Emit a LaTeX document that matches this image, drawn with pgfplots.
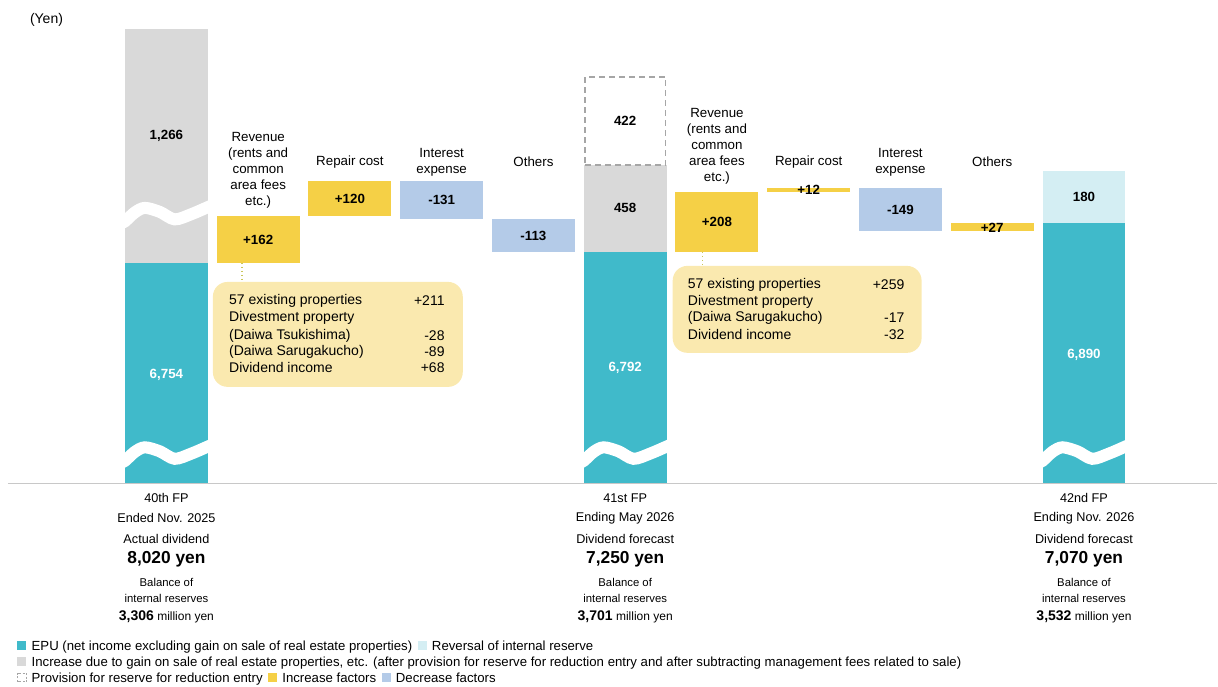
\documentclass[border=0pt]{standalone}
\usepackage{fontspec}
\setmainfont{Liberation Sans}
\usepackage{pgfplots}
\pgfplotsset{compat=1.18}
\usepackage{pgfplotstable}

\definecolor{cTeal}{HTML}{40BACA}
\definecolor{cLTeal}{HTML}{D4EEF3}
\definecolor{cGrey}{HTML}{D9D9D9}
\definecolor{cYellow}{HTML}{F5D046}
\definecolor{cBlue}{HTML}{B4CBE8}
\definecolor{cCallout}{HTML}{FAE9AF}
\definecolor{cBase}{HTML}{C8C8C8}
\definecolor{cDash}{HTML}{A6A6A6}
\definecolor{cDot}{HTML}{C9C55A}
\definecolor{cText}{HTML}{1F1F1F}

% wave break shape (t across bar width, level in yen-scale)
\pgfplotstableread{
t L
-0.06 6062.6
0 6071.2
0.12 6102.3
0.24 6117.8
0.42 6104
0.6 6078.1
0.8 6096
1.0 6120.5
1.06 6128.1
}\wavetable

\newcommand{\rect}[5]{\addplot[fill=#5, draw=none, forget plot] coordinates {(#1,#3) (#2,#3) (#2,#4) (#1,#4)} -- cycle;}
\newcommand{\sq}[1]{\textcolor{#1}{\rule{6.8pt}{6.8pt}}}
\newcommand{\fs}[1]{\fontsize{#1}{#1}\selectfont}

\begin{document}
\begin{tikzpicture}
\begin{axis}[
  x=68.85pt, y=0.2175pt,
  xmin=-1.8137, xmax=11.4542, ymin=5292, ymax=7661,
  axis line style={draw=none}, xtick=\empty, ytick=\empty,
  clip=false,
  every node/.style={text=cText},
]
% 40th FP
\rect{-0.452}{0.452}{5992}{6754}{cTeal}
\rect{-0.452}{0.452}{6754}{7560}{cGrey}
% factors 40th -> 41st
\rect{0.548}{1.452}{6754}{6916}{cYellow}
\rect{1.548}{2.452}{6916}{7036}{cYellow}
\rect{2.548}{3.452}{6905}{7036}{cBlue}
\rect{3.548}{4.452}{6792}{6905}{cBlue}
% 41st FP
\rect{4.548}{5.452}{5992}{6792}{cTeal}
\rect{4.548}{5.452}{6792}{7092}{cGrey}
\addplot[fill=white, draw=cDash, line width=1.1pt, dash pattern=on 4.5pt off 3pt, forget plot] coordinates {(4.56,7092) (5.44,7092) (5.44,7396) (4.56,7396)} -- cycle;
% factors 41st -> 42nd
\rect{5.548}{6.452}{6792}{7000}{cYellow}
\rect{6.548}{7.452}{7000}{7012}{cYellow}
\rect{7.548}{8.452}{6863}{7012}{cBlue}
\rect{8.548}{9.452}{6863}{6890}{cYellow}
% 42nd FP
\rect{9.548}{10.452}{5992}{6890}{cTeal}
\rect{9.548}{10.452}{6890}{7070}{cLTeal}
% baseline
\addplot[cBase, line width=0.9pt, forget plot] coordinates {(-1.727,5992) (11.4542,5992)};
% wave breaks
\addplot[white, line width=9pt, smooth, forget plot] table[x expr=\thisrow{t}*0.904-0.452, y=L]{\wavetable};
\addplot[white, line width=9pt, smooth, forget plot] table[x expr=\thisrow{t}*0.904-0.452, y expr=\thisrow{L}+826]{\wavetable};
\addplot[white, line width=9pt, smooth, forget plot] table[x expr=\thisrow{t}*0.904+4.548, y=L]{\wavetable};
\addplot[white, line width=9pt, smooth, forget plot] table[x expr=\thisrow{t}*0.904+9.548, y=L]{\wavetable};
% connectors
\addplot[cDot, line width=1pt, dotted, forget plot] coordinates {(0.823,6754) (0.823,6688)};
\addplot[cDot, line width=1pt, dotted, forget plot] coordinates {(5.844,6792) (5.844,6744)};

% callouts
\node[fill=cCallout, rounded corners=11pt, minimum width=187.5pt, minimum height=78.75pt, inner sep=0pt] at (axis cs:1.868,6507.3) {};
\node[fill=cCallout, rounded corners=11pt, minimum width=186.75pt, minimum height=65.25pt, inner sep=0pt] at (axis cs:6.874,6593.7) {};

\begin{scope}[every node/.append style={font=\fs{10.5}, inner sep=0pt}]
\node[anchor=west] at (axis cs:0.681,6623) {57 existing properties};
\node[anchor=west] at (axis cs:0.681,6564.4) {Divestment property};
\node[anchor=west] at (axis cs:0.681,6502.3) {(Daiwa Tsukishima)};
\node[anchor=west] at (axis cs:0.681,6447.1) {(Daiwa Sarugakucho)};
\node[anchor=west] at (axis cs:0.681,6392) {Dividend income};
\node[anchor=east] at (axis cs:3.034,6623) {+211};
\node[anchor=east] at (axis cs:3.034,6502.3) {-28};
\node[anchor=east] at (axis cs:3.034,6447.1) {-89};
\node[anchor=east] at (axis cs:3.034,6392) {+68};
\node[anchor=west] at (axis cs:5.681,6678.1) {57 existing properties};
\node[anchor=west] at (axis cs:5.681,6619.5) {Divestment property};
\node[anchor=west] at (axis cs:5.681,6564.4) {(Daiwa Sarugakucho)};
\node[anchor=west] at (axis cs:5.681,6505.7) {Dividend income};
\node[anchor=east] at (axis cs:8.045,6678.1) {+259};
\node[anchor=east] at (axis cs:8.045,6564.4) {-17};
\node[anchor=east] at (axis cs:8.045,6505.7) {-32};
\end{scope}

% top labels
\begin{scope}[every node/.append style={font=\fontsize{10}{12}\selectfont, align=center, inner sep=0pt}]
\node at (axis cs:-1.307,7592) {\fs{10.5}(Yen)};
\node at (axis cs:1,7073) {Revenue\\(rents and\\common\\area fees\\etc.)};
\node at (axis cs:2,7102) {Repair cost};
\node at (axis cs:3,7102) {Interest\\expense};
\node at (axis cs:4,7102) {Others};
\node at (axis cs:6,7156) {Revenue\\(rents and\\common\\area fees\\etc.)};
\node at (axis cs:7,7102) {Repair cost};
\node at (axis cs:8,7102) {Interest\\expense};
\node at (axis cs:9,7102) {Others};
\end{scope}

% bar values
\begin{scope}[every node/.append style={font=\bfseries\fs{10}, inner sep=0pt}]
\node at (axis cs:0,7192) {1,266};
\node[text=white] at (axis cs:0,6368) {6,754};
\node at (axis cs:1,6835) {+162};
\node at (axis cs:2,6976) {+120};
\node at (axis cs:3,6970.5) {-131};
\node at (axis cs:4,6848.5) {-113};
\node at (axis cs:5,7244) {422};
\node at (axis cs:5,6942) {458};
\node[text=white] at (axis cs:5,6392) {6,792};
\node at (axis cs:6,6896) {+208};
\node at (axis cs:7,7006) {+12};
\node at (axis cs:8,6937.5) {-149};
\node at (axis cs:9,6876.5) {+27};
\node at (axis cs:10,6980) {180};
\node[text=white] at (axis cs:10,6437) {6,890};
\end{scope}

% period labels
\begin{scope}[every node/.append style={inner sep=0pt}]
\node[font=\fs{9.5}] at (axis cs:0,5943.7) {40th FP};
\node[font=\fs{9.5}] at (axis cs:0,5874.7) {Ended Nov. 2025};
\node[font=\fs{9.5}] at (axis cs:0,5802.3) {Actual dividend};
\node[font=\bfseries\fs{13}] at (axis cs:0,5733.3) {8,020 yen};
\node[font=\fs{8.5}] at (axis cs:0,5650.6) {Balance of};
\node[font=\fs{8.5}] at (axis cs:0,5595.4) {internal reserves};
\node[font=\fs{9}] at (axis cs:0,5533.3) {{\bfseries\fs{10.5}3,306} million yen};

\node[font=\fs{9.5}] at (axis cs:5,5943.7) {41st FP};
\node[font=\fs{9.5}] at (axis cs:5,5874.7) {Ending May 2026};
\node[font=\fs{9.5}] at (axis cs:5,5802.3) {Dividend forecast};
\node[font=\bfseries\fs{13}] at (axis cs:5,5733.3) {7,250 yen};
\node[font=\fs{8.5}] at (axis cs:5,5650.6) {Balance of};
\node[font=\fs{8.5}] at (axis cs:5,5595.4) {internal reserves};
\node[font=\fs{9}] at (axis cs:5,5533.3) {{\bfseries\fs{10.5}3,701} million yen};

\node[font=\fs{9.5}] at (axis cs:10,5943.7) {42nd FP};
\node[font=\fs{9.5}] at (axis cs:10,5874.7) {Ending Nov. 2026};
\node[font=\fs{9.5}] at (axis cs:10,5802.3) {Dividend forecast};
\node[font=\bfseries\fs{13}] at (axis cs:10,5733.3) {7,070 yen};
\node[font=\fs{8.5}] at (axis cs:10,5650.6) {Balance of};
\node[font=\fs{8.5}] at (axis cs:10,5595.4) {internal reserves};
\node[font=\fs{9}] at (axis cs:10,5533.3) {{\bfseries\fs{10.5}3,532} million yen};
\end{scope}

% legend
\begin{scope}[every node/.append style={font=\fs{9.9}, inner sep=0pt, anchor=west}]
\node at (axis cs:-1.6285,5429.9) {\sq{cTeal}\hspace{4pt}EPU (net income excluding gain on sale of real estate properties)\hspace{4pt}\sq{cLTeal}\hspace{4pt}Reversal of internal reserve};
\node at (axis cs:-1.6285,5374.7) {\sq{cGrey}\hspace{4pt}Increase due to gain on sale of real estate properties, etc. (after provision for reserve for reduction entry and after subtracting management fees related to sale)};
\node at (axis cs:-1.6285,5319.5) {\tikz[baseline=0pt]\draw[cDash, line width=0.5pt, dash pattern=on 1.5pt off 1pt] (0.25pt,0.25pt) rectangle (6.55pt,6.55pt);\hspace{4pt}Provision for reserve for reduction entry\hspace{4pt}\sq{cYellow}\hspace{4pt}Increase factors\hspace{4pt}\sq{cBlue}\hspace{4pt}Decrease factors};
\end{scope}
\end{axis}
\end{tikzpicture}
\end{document}
